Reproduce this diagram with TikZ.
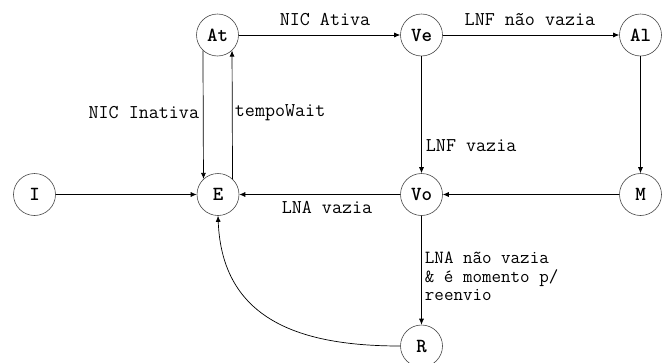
\documentclass[tikz,border=0pt]{standalone}
\usepackage{fontspec}
\usepackage{tikz}
\usetikzlibrary{arrows.meta}

\tikzset{
  state/.style={circle, draw={rgb,255:red,70;green,70;blue,70}, line width=0.6pt, minimum size=42pt, inner sep=0pt, font=\ttfamily\bfseries\fontsize{20}{17}\selectfont},
  lbl/.style={inner sep=0.75pt, font=\ttfamily\fontsize{19.5}{17}\selectfont},
  trans/.style={->, >={Latex[length=6pt,width=5pt]}, line width=0.7pt}
}

\begin{document}
\begin{tikzpicture}[x=1pt,y=1pt,yscale=-1,xscale=1]
\path[use as bounding box] (0,0) rectangle (667,362);

% States
\draw (217.5,35) node [state] (At) {At};
\draw (421.5,35) node [state] (Ve) {Ve};
\draw (640.5,35) node [state] (Al) {Al};
\draw (34.5,194.5) node [state] (I) {I};
\draw (218,194.5) node [state] (E) {E};
\draw (421.5,194.5) node [state] (Vo) {Vo};
\draw (640.5,194.5) node [state] (M) {M};
\draw (421.5,346) node [state] (R) {R};

%Straight Lines
\draw [trans] (At) -- (Ve);
\draw [trans] (Ve) -- (Al);
\draw [trans] (At.-133) -- (E.133);
\draw [trans] (E.47) -- (At.-47);
\draw [trans] (Ve) -- (Vo);
\draw [trans] (Al) -- (M);
\draw [trans] (M) -- (Vo);
\draw [trans] (Vo) -- (E);
\draw [trans] (I) -- (E);
\draw [trans] (Vo) -- (R);
%Curve Lines
\draw [trans] (R.west) .. controls (300,346) and (222,320) .. (E.south);

% Text Node
\draw (325,20) node [lbl] {NIC Ativa};
% Text Node
\draw (530,20) node [lbl] {LNF não vazia};
% Text Node
\draw (200,113) node [lbl, anchor=east] {NIC Inativa};
% Text Node
\draw (234,113) node [lbl, anchor=west] {tempoWait};
% Text Node
\draw (425,146) node [lbl, anchor=west] {LNF vazia};
% Text Node
\draw (327,207) node [lbl] {LNA vazia};
% Text Node
\draw (424,251) node [lbl, anchor=north west, align=left, font=\ttfamily\fontsize{18.5}{18.5}\selectfont] {LNA não vazia\\\& é momento p/\\reenvio};

\end{tikzpicture}
\end{document}
